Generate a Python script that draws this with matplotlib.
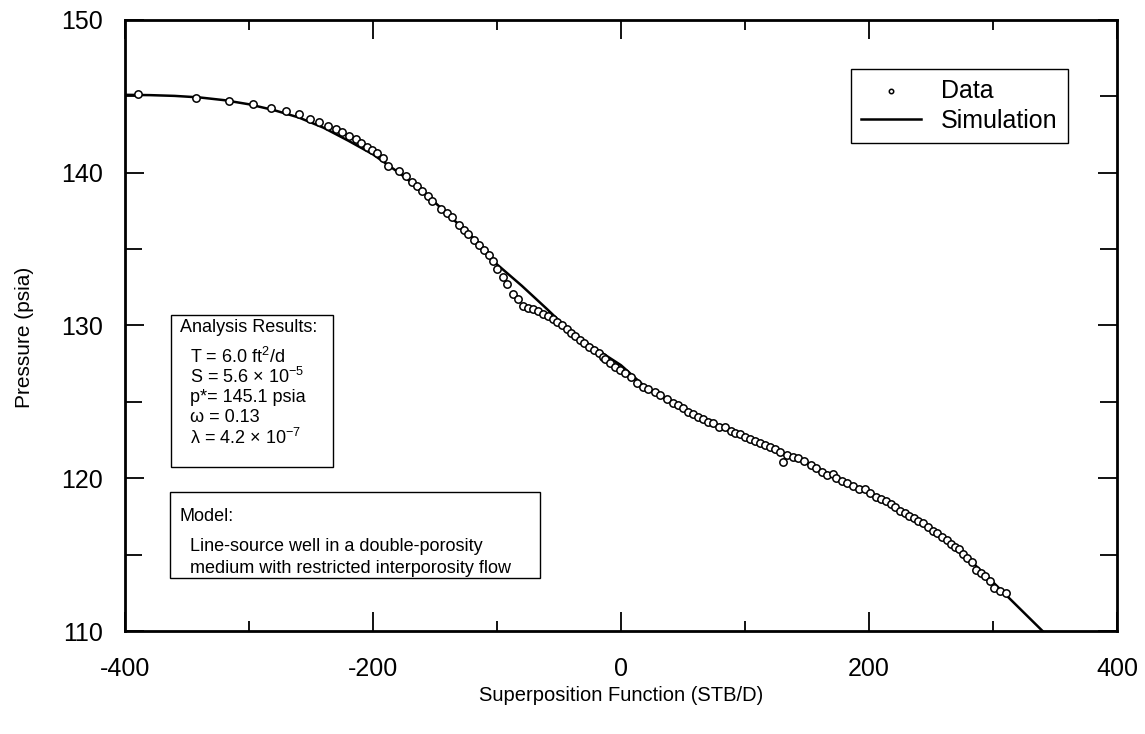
import matplotlib.pyplot as plt
from matplotlib.patches import Rectangle
from matplotlib.ticker import MultipleLocator
import numpy as np

plt.rcParams['font.family'] = ['Liberation Sans', 'DejaVu Sans']
plt.rcParams['mathtext.default'] = 'regular'
plt.rcParams['axes.unicode_minus'] = False

# measured pressure vs superposition function
data_x = np.array([-389.5, -342.7, -315.9, -297, -282, -270, -260, -251, -243.5, -236,
                   -230, -224.8, -219.4, -214, -209.7, -205, -200.5, -196.5, -191.7, -188,
                   -178.8, -173.4, -168.8, -164.3, -160.2, -155.6, -152.7, -145.4, -140.6, -136.5,
                   -130.6, -126.6, -123.1, -118.5, -114.5, -110.5, -106.2, -103.5, -99.8, -95.4,
                   -92.2, -87.1, -82.8, -79, -74.7, -71, -66.9, -62.9, -59.1, -55.1,
                   -51.4, -47.6, -43.8, -40.3, -36.8, -33.3, -29.8, -26, -21.8, -18,
                   -14.3, -12.9, -8.9, -4.8, -0.8, 3.2, 7.8, 13.2, 17.5, 22,
                   27.4, 31.5, 36.8, 41.7, 46.2, 50.3, 54.3, 58.3, 62.3, 66.4,
                   70.4, 74.4, 79.3, 83.9, 88.5, 91.9, 96, 100, 104, 108,
                   112, 116, 120, 124, 128, 130.9, 133.6, 139, 143, 148,
                   153, 157.5, 161.9, 166.4, 170.7, 173.4, 178, 182.5, 187.4, 192.2,
                   196.8, 200.8, 205.6, 209.4, 213.7, 217.5, 221.2, 225, 229, 232.5,
                   236.3, 239.8, 243.8, 247.8, 251.9, 255.1, 258.6, 262.7, 265.9, 269.4,
                   272.8, 275.6, 278.8, 282.8, 286.3, 290.1, 293.5, 297.6, 300.8, 305.6,
                   310.5])
data_y = np.array([145.16, 144.91, 144.72, 144.5, 144.26, 144.02, 143.85, 143.52, 143.3, 143.06,
                   142.84, 142.65, 142.38, 142.19, 141.95, 141.66, 141.49, 141.27, 140.98, 140.46,
                   140.13, 139.81, 139.41, 139.11, 138.83, 138.48, 138.15, 137.63, 137.34, 137.08,
                   136.58, 136.25, 135.99, 135.6, 135.27, 134.94, 134.6, 134.22, 133.7, 133.19,
                   132.74, 132.08, 131.71, 131.28, 131.17, 131.06, 130.93, 130.75, 130.62, 130.45,
                   130.23, 130.01, 129.77, 129.53, 129.29, 129.05, 128.83, 128.61, 128.4, 128.18,
                   127.96, 127.81, 127.53, 127.3, 127.09, 126.87, 126.65, 126.21, 126.0, 125.82,
                   125.67, 125.45, 125.17, 124.95, 124.8, 124.58, 124.36, 124.21, 124.03, 123.86,
                   123.7, 123.6, 123.38, 123.33, 123.11, 122.98, 122.9, 122.72, 122.59, 122.44,
                   122.29, 122.16, 122.07, 121.9, 121.74, 121.08, 121.52, 121.37, 121.3, 121.1,
                   120.9, 120.7, 120.43, 120.21, 120.28, 120.0, 119.84, 119.67, 119.49, 119.28,
                   119.28, 119.01, 118.75, 118.62, 118.51, 118.31, 118.14, 117.86, 117.7, 117.53,
                   117.38, 117.22, 117.09, 116.79, 116.57, 116.4, 116.17, 115.96, 115.7, 115.52,
                   115.35, 115.04, 114.76, 114.54, 114.0, 113.78, 113.6, 113.29, 112.8, 112.64,
                   112.47])

# simulated curve
sim_x = np.array([-400, -380, -360, -340, -320, -300, -280, -260, -240, -220,
                  -200, -180, -160, -140, -120, -100, -80, -60, -40, -20,
                  0, 20, 40, 60, 80, 100, 120, 140, 160, 180,
                  200, 220, 240, 260, 280, 300, 320, 340])
sim_y = np.array([145.10, 145.08, 145.03, 144.93, 144.75, 144.48, 144.10, 143.62, 142.95, 142.10,
                  141.20, 140.05, 138.80, 137.30, 135.80, 134.00, 132.60, 131.10, 129.55, 128.45,
                  127.40, 125.95, 125.00, 124.15, 123.35, 122.65, 122.00, 121.35, 120.60, 119.80,
                  119.00, 118.15, 117.20, 116.10, 114.75, 113.20, 111.60, 110.00])

fig = plt.figure(figsize=(11.45, 7.34), dpi=100)
ax = fig.add_axes([0.1092, 0.1403, 0.8663, 0.8325])

ax.plot(sim_x, sim_y, color='black', lw=1.8, label='Simulation', zorder=2)
ax.scatter(data_x, data_y, s=28, facecolors='white', edgecolors='black',
           linewidths=1.1, label='Data', zorder=3)

ax.set_xlim(-400, 400)
ax.set_ylim(110, 150)
ax.xaxis.set_major_locator(MultipleLocator(200))
ax.xaxis.set_minor_locator(MultipleLocator(100))
ax.yaxis.set_major_locator(MultipleLocator(10))
ax.yaxis.set_minor_locator(MultipleLocator(5))
ax.tick_params(which='both', direction='in', top=True, right=True,
               width=1.3, labelsize=18)
ax.tick_params(which='major', length=14)
ax.tick_params(axis='x', which='major', pad=19)
ax.tick_params(axis='y', which='major', pad=16)
ax.tick_params(axis='x', which='minor', length=7)
ax.tick_params(axis='y', which='minor', length=12)
for s in ax.spines.values():
    s.set_linewidth(2)

ax.set_xlabel('Superposition Function (STB/D)', fontsize=14.5, labelpad=3)
ax.set_ylabel('Pressure (psia)', fontsize=15, labelpad=20)
ax.yaxis.set_label_coords(-0.092, 0.481)

# legend with the marker first
h, l = ax.get_legend_handles_labels()
leg = ax.legend([h[1], h[0]], [l[1], l[0]], loc='upper right',
                bbox_to_anchor=(0.963, 0.941), fontsize=18, fancybox=False,
                edgecolor='black', framealpha=1, handlelength=2.4,
                borderpad=0.4, labelspacing=0.25, handletextpad=0.8,
                markerscale=0.6)
leg.get_frame().set_linewidth(1.0)

# analysis results box
ax.add_patch(Rectangle((0.0464, 0.2684), 0.1633, 0.2488, transform=ax.transAxes,
                       fill=False, lw=1.0, color='black'))
ax.text(0.0554, 0.4959, 'Analysis Results:', transform=ax.transAxes,
        fontsize=13, va='center')
results = ['T = 6.0 ft$^2$/d', 'S = 5.6 × 10$^{-5}$', 'p*= 145.1 psia',
           'ω = 0.13', 'λ = 4.2 × 10$^{-7}$']
for i, t in enumerate(results):
    ax.text(0.0655, 0.4484 - i * 0.0331, t, transform=ax.transAxes,
            fontsize=13, va='center')

# model box
ax.add_patch(Rectangle((0.0454, 0.0867), 0.3729, 0.1408, transform=ax.transAxes,
                       fill=False, lw=1.0, color='black'))
ax.text(0.0554, 0.1882, 'Model:', transform=ax.transAxes, fontsize=13, va='center')
ax.text(0.0655, 0.1375, 'Line-source well in a double-porosity', transform=ax.transAxes,
        fontsize=13, va='center')
ax.text(0.0655, 0.1031, 'medium with restricted interporosity flow', transform=ax.transAxes,
        fontsize=13, va='center')

fig.savefig('out.png', dpi=100)
